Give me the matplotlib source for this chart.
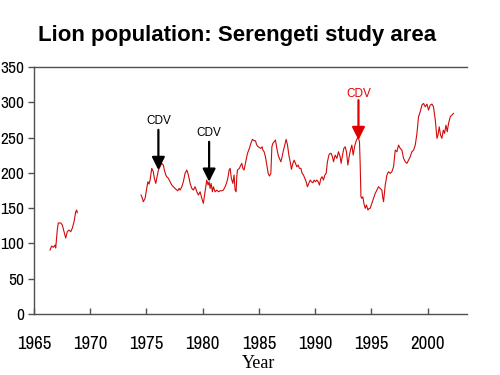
import matplotlib
matplotlib.use("Agg")
import matplotlib.pyplot as plt
from matplotlib import font_manager
from matplotlib.font_manager import FontProperties

# ---------------- data ----------------
seg1_years = [1966.42, 1966.57, 1966.72, 1966.87, 1966.93, 1967.07, 1967.16, 1967.38,
              1967.52, 1967.67, 1967.82, 1967.96, 1968.11, 1968.27, 1968.41, 1968.56,
              1968.71, 1968.80, 1968.85]
seg1_pop = [90.6, 96.3, 94.5, 97.7, 93.5, 119.0, 129.0, 129.0,
            126.0, 116.6, 107.6, 116.6, 119.0, 116.6, 121.8, 130.7,
            144.9, 147.3, 143.5]

seg2_years = [1974.52, 1974.64, 1974.72, 1974.88, 1975.12, 1975.23, 1975.32, 1975.47,
              1975.61, 1975.70, 1975.83, 1975.92, 1976.06, 1976.21, 1976.36, 1976.50,
              1976.59, 1976.72, 1976.81, 1976.95, 1977.10, 1977.25, 1977.39, 1977.54,
              1977.70, 1977.78, 1977.90, 1977.99, 1978.14, 1978.28, 1978.43, 1978.59,
              1978.73, 1978.88, 1979.03, 1979.17, 1979.32, 1979.48, 1979.62, 1979.77,
              1979.92, 1980.06, 1980.17, 1980.28, 1980.36, 1980.48, 1980.57, 1980.66,
              1980.75, 1980.86, 1980.95, 1981.10, 1981.25, 1981.40, 1981.55, 1981.70,
              1981.84, 1981.99, 1982.12, 1982.23, 1982.35, 1982.44, 1982.55, 1982.68,
              1982.79, 1982.88, 1982.97, 1983.03, 1983.09, 1983.26, 1983.39, 1983.48,
              1983.57, 1983.68, 1983.86, 1983.98, 1984.15, 1984.28, 1984.42, 1984.57,
              1984.69, 1984.81, 1984.93, 1985.04, 1985.17, 1985.28, 1985.35, 1985.46,
              1985.58, 1985.70, 1985.82, 1985.93, 1986.06, 1986.15, 1986.24, 1986.35,
              1986.47, 1986.59, 1986.71, 1986.82, 1986.95, 1987.06, 1987.18, 1987.30,
              1987.42, 1987.54, 1987.66, 1987.78, 1987.89, 1988.02, 1988.13, 1988.25,
              1988.37, 1988.49, 1988.60, 1988.73, 1988.84, 1988.96, 1989.08, 1989.20,
              1989.31, 1989.44, 1989.56, 1989.67, 1989.80, 1989.91, 1990.03, 1990.15,
              1990.27, 1990.38, 1990.51, 1990.62, 1990.74, 1990.86, 1990.98, 1991.09,
              1991.22, 1991.33, 1991.42, 1991.54, 1991.63, 1991.78, 1991.93, 1992.07,
              1992.22, 1992.31, 1992.43, 1992.55, 1992.67, 1992.78, 1992.91, 1993.02,
              1993.14, 1993.26, 1993.38, 1993.50, 1993.62, 1993.74, 1993.85, 1993.94,
              1994.00, 1994.07, 1994.15, 1994.24, 1994.33, 1994.45, 1994.56, 1994.69,
              1994.80, 1994.89, 1995.04, 1995.19, 1995.34, 1995.49, 1995.63, 1995.78,
              1995.93, 1996.02, 1996.08, 1996.14, 1996.23, 1996.38, 1996.52, 1996.67,
              1996.82, 1996.97, 1997.05, 1997.12, 1997.27, 1997.41, 1997.56, 1997.71,
              1997.86, 1998.01, 1998.16, 1998.30, 1998.45, 1998.60, 1998.75, 1998.90,
              1999.05, 1999.19, 1999.34, 1999.49, 1999.64, 1999.79, 1999.94, 2000.08,
              2000.23, 2000.38, 2000.52, 2000.68, 2000.83, 2000.92, 2001.03, 2001.15,
              2001.27, 2001.39, 2001.50, 2001.63, 2001.74, 2001.86, 2002.01, 2002.16,
              2002.30]
seg2_pop = [168.6, 163.9, 159.1, 163.9, 187.4, 184.1, 189.8, 206.4,
            201.6, 192.2, 185.1, 192.2, 204.0, 208.6, 213.5, 211.0,
            204.0, 196.9, 194.5, 192.2, 187.4, 182.7, 180.3, 178.0,
            175.6, 174.6, 178.0, 175.6, 180.3, 187.4, 199.3, 204.0,
            196.9, 185.1, 178.0, 175.6, 180.3, 173.2, 168.6, 173.2,
            163.9, 156.8, 168.6, 180.3, 189.8, 182.7, 187.4, 178.0,
            185.1, 173.2, 180.3, 173.2, 175.6, 173.2, 174.6, 174.6,
            175.6, 180.3, 185.6, 192.2, 204.0, 206.4, 192.2, 185.1,
            196.9, 175.6, 173.2, 194.5, 204.0, 206.4, 211.0, 213.5,
            206.4, 204.0, 218.1, 227.6, 234.7, 241.8, 247.5, 245.5,
            245.5, 239.4, 237.0, 235.8, 234.7, 237.0, 232.3, 229.9,
            222.8, 211.0, 199.3, 195.5, 199.3, 237.0, 241.8, 244.1,
            246.5, 234.7, 225.2, 220.5, 215.7, 222.8, 232.3, 239.4,
            247.5, 239.4, 225.2, 215.7, 205.0, 213.5, 218.1, 213.5,
            208.6, 211.0, 206.4, 206.4, 199.3, 196.9, 192.2, 187.4,
            180.3, 185.1, 189.8, 187.4, 186.0, 189.8, 187.4, 189.8,
            187.4, 182.7, 192.2, 194.5, 189.8, 196.9, 199.3, 215.7,
            225.2, 227.6, 227.6, 222.8, 215.7, 225.2, 220.5, 229.9,
            222.8, 213.5, 225.2, 234.7, 237.0, 229.9, 211.0, 222.8,
            232.3, 239.4, 225.2, 237.0, 244.1, 248.9, 248.9, 244.1,
            213.5, 166.1, 163.9, 166.1, 156.8, 149.7, 154.4, 147.3,
            149.7, 149.7, 156.8, 163.9, 171.0, 175.6, 180.3, 178.0,
            175.6, 163.9, 159.1, 168.6, 182.7, 196.9, 201.6, 199.3,
            201.6, 208.6, 220.5, 232.3, 229.9, 239.4, 234.7, 232.3,
            220.5, 215.7, 213.5, 218.1, 222.8, 229.9, 232.3, 239.4,
            256.0, 279.5, 286.5, 296.0, 298.4, 293.6, 297.5, 289.0,
            296.0, 297.5, 293.6, 274.8, 248.9, 253.5, 265.3, 253.5,
            248.9, 260.6, 256.0, 267.7, 258.2, 270.1, 279.5, 281.9,
            284.3]

# CDV outbreak annotations: event year, arrow tip, arrow tail, label height
cdv_years = [1976.06, 1980.57, 1993.85]
cdv_tip = [204.0, 187.4, 246.5]
cdv_tail = [261.0, 244.0, 303.0]
cdv_label_y = [273.4, 256.8, 311.6]
cdv_colors = ["black", "black", "#e00000"]
cdv_label = "CDV"

x_ticks = [1965, 1970, 1975, 1980, 1985, 1990, 1995, 2000]
y_ticks = [0, 50, 100, 150, 200, 250, 300, 350]

title = "Lion population: Serengeti study area"
xlabel = "Year"

# ---------------- fonts ----------------
def find_condensed():
    prefs = []
    for f in font_manager.fontManager.ttflist:
        fn = f.fname.lower()
        name = f.name.lower()
        if f.weight not in (400, "normal", "regular") and f.weight != 400:
            continue
        if "italic" in fn or "oblique" in fn or f.style != "normal":
            continue
        if "narrow" in fn or "narrow" in name:
            prefs.append((0, f.fname))
        elif "condensed" in fn and "sans" in fn and "mono" not in fn and "bold" not in fn:
            prefs.append((1, f.fname))
    prefs.sort()
    return prefs[0][1] if prefs else None

cond_path = find_condensed()
if cond_path:
    ytick_fp = FontProperties(fname=cond_path, size=12.5)
    xtick_fp = FontProperties(fname=cond_path, size=13.5)
else:
    ytick_fp = FontProperties(family=["DejaVu Sans"], stretch="condensed", size=11)
    xtick_fp = FontProperties(family=["DejaVu Sans"], stretch="condensed", size=12)

sans = ["Liberation Sans", "DejaVu Sans"]

# ---------------- figure ----------------
fig = plt.figure(figsize=(5, 3.75), dpi=100)
ax = fig.add_axes([0.068, 0.1627, 0.866, 0.6586])

line_color = "#d10a0a"
ax.plot(seg1_years, seg1_pop, color=line_color, lw=0.8)
ax.plot(seg2_years, seg2_pop, color=line_color, lw=0.8)

for yr, tip, tail, ly, c in zip(cdv_years, cdv_tip, cdv_tail, cdv_label_y, cdv_colors):
    ax.annotate("", xy=(yr, tip), xytext=(yr, tail),
                arrowprops=dict(arrowstyle="-|>,head_length=0.7,head_width=0.35",
                                color=c, lw=1.6, shrinkA=0, shrinkB=0,
                                mutation_scale=11))
    ax.text(yr, ly, cdv_label, color=c, ha="center", va="center",
            fontsize=8.5, family=sans)

ax.set_xlim(1965, 2003.5)
ax.set_ylim(0, 350)
ax.set_xticks(x_ticks)
ax.set_yticks(y_ticks)

spine_color = "#505050"
for s in ["left", "bottom", "top"]:
    ax.spines[s].set_color(spine_color)
    ax.spines[s].set_linewidth(1.0)
ax.spines["right"].set_visible(False)

ax.tick_params(axis="y", direction="out", length=4, width=1, color=spine_color, pad=3)
ax.tick_params(axis="x", direction="in", length=4, width=1, color=spine_color, pad=16)
for lab in ax.get_yticklabels():
    lab.set_fontproperties(ytick_fp)
for lab in ax.get_xticklabels():
    lab.set_fontproperties(xtick_fp)

fig.text(259 / 500, 1 - 363 / 375, xlabel, ha="center", va="center",
         fontsize=13, family=["Liberation Serif", "DejaVu Serif"])
fig.text(237 / 500, 1 - 35 / 375, title, ha="center", va="center",
         fontsize=16, fontweight="bold", family=sans)

fig.savefig("out.png", dpi=100)
